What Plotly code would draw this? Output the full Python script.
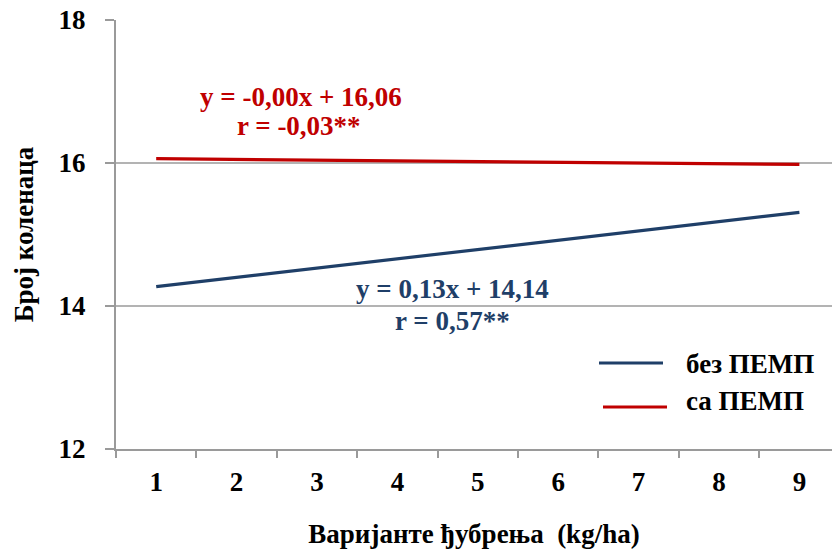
import plotly.graph_objects as go

# Fertilisation variants on the category axis
variants = [1, 2, 3, 4, 5, 6, 7, 8, 9]
variant_labels = ["1", "2", "3", "4", "5", "6", "7", "8", "9"]

# Linear trend lines (values at the first and last variant)
trend_x = [1, 9]
bez_pemp = [14.27, 15.31]
sa_pemp = [16.06, 15.98]

series_names = ["без ПЕМП", "са ПЕМП"]
eq_bez = ["y = 0,13x + 14,14", "r = 0,57**"]
eq_sa = ["y = -0,00x + 16,06", "r = -0,03**"]

y_ticks = [12, 14, 16, 18]

BLUE = "#1F3F68"
RED = "#C00000"
GRID = "#B3B3B3"
AXIS = "#9A9A9A"
FONT = "Liberation Serif"
FS = 27

W, H = 832, 554
ML, MR, MT, MB = 116, 0, 20, 105
PW, PH = W - ML - MR, H - MT - MB


def px(x):
    return (x - ML) / PW


def py(y):
    return (H - MB - y) / PH


def bold_font(color="black"):
    return dict(family=FONT, size=FS, color=color, weight=700)


fig = go.Figure()
fig.add_trace(go.Scatter(x=trend_x, y=bez_pemp, mode="lines", name=series_names[0],
                         line=dict(color=BLUE, width=3.2), showlegend=False))
fig.add_trace(go.Scatter(x=trend_x, y=sa_pemp, mode="lines", name=series_names[1],
                         line=dict(color=RED, width=3.2), showlegend=False))

# Regression equations
for text, color, cx, cy in [(eq_sa[0], RED, 301, 97), (eq_sa[1], RED, 299, 126),
                            (eq_bez[0], BLUE, 452, 289), (eq_bez[1], BLUE, 452, 321)]:
    fig.add_annotation(x=px(cx), y=py(cy), xref="paper", yref="paper", showarrow=False,
                       text=text, font=bold_font(color), xanchor="center", yanchor="middle")

# Legend drawn as line samples with labels
legend_rows = [(series_names[0], BLUE, 599, 663, 363, 364),
               (series_names[1], RED, 603, 667, 407, 401)]
for name, color, x0, x1, yl, yt in legend_rows:
    fig.add_shape(type="line", xref="paper", yref="paper",
                  x0=px(x0), x1=px(x1), y0=py(yl), y1=py(yl),
                  line=dict(color=color, width=3.2))
    fig.add_annotation(x=px(684), y=py(yt), xref="paper", yref="paper", showarrow=False,
                       text=name, font=bold_font(), xanchor="left", yanchor="middle")

fig.update_layout(
    width=W, height=H,
    margin=dict(l=ML, r=MR, t=MT, b=MB, pad=0),
    paper_bgcolor="white", plot_bgcolor="white",
    font=dict(family=FONT, size=FS, color="black"),
)

fig.update_xaxes(
    range=[0.5, 0.5 + PW / 80.4],
    tickmode="array", tickvals=variants, ticktext=variant_labels,
    ticks="", ticklabelstandoff=8,
    tickfont=bold_font(),
    minor=dict(tick0=0.5, dtick=1, ticks="outside", ticklen=7, tickcolor=AXIS, tickwidth=2),
    showgrid=False, zeroline=False,
    showline=True, linecolor=AXIS, linewidth=2,
    title=dict(text="Варијанте ђубрења  (kg/ha)", standoff=28, font=bold_font()),
)

fig.update_yaxes(
    range=[12, 18],
    tickmode="array", tickvals=y_ticks, ticktext=[str(v) for v in y_ticks],
    ticks="outside", ticklen=9, tickcolor=AXIS, tickwidth=2,
    ticklabelstandoff=14,
    tickfont=bold_font(),
    showgrid=True, gridcolor=GRID, gridwidth=2,
    zeroline=False,
    showline=True, linecolor=AXIS, linewidth=2,
    title=dict(text="Број коленаца", standoff=17, font=bold_font()),
)

fig.write_html("out.html")
